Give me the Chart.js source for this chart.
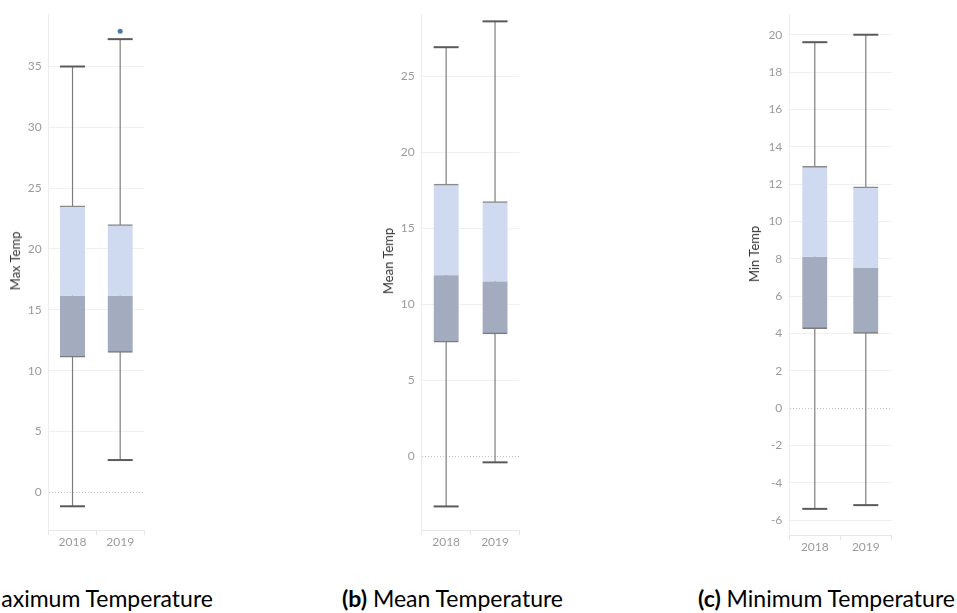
<!DOCTYPE html>
<html lang="en">
<head>
<meta charset="UTF-8">
<title>Max / Mean / Min Temperature 2018-2019</title>
<script src="https://cdn.jsdelivr.net/npm/chart.js"></script>
<style>
    body {
        margin: 0;
        width: 957px;
        height: 613px;
        overflow: hidden;
        background: #fff;
        position: relative;
        font-family: Lato, sans-serif;
    }
    .panel { position: absolute; top: 0; }
    .ytitle {
        position: absolute;
        font-size: 13px;
        color: #333;
        white-space: nowrap;
        transform: translate(-50%, -50%) rotate(-90deg);
    }
    .caption {
        position: absolute;
        top: 587px;
        font-size: 23px;
        line-height: 23px;
        color: #000;
        white-space: nowrap;
    }
</style>
</head>
<body>
    <div class="panel" style="left:0px"><canvas id="maxChart" width="150" height="560"></canvas></div>
    <div class="panel" style="left:372px"><canvas id="meanChart" width="150" height="560"></canvas></div>
    <div class="panel" style="left:740px"><canvas id="minChart" width="155" height="565"></canvas></div>

    <div class="ytitle" style="left:15px; top:261px">Max Temp</div>
    <div class="ytitle" style="left:388px; top:261px">Mean Temp</div>
    <div class="ytitle" style="left:754px; top:254px">Min Temp</div>

    <div class="caption" style="right:744px"><b>(a)</b> Maximum Temperature</div>
    <div class="caption" style="right:394px"><b>(b)</b> Mean Temperature</div>
    <div class="caption" style="right:2px"><b>(c)</b> Minimum Temperature</div>

<script>
// categories
const years = ['2018', '2019'];

// Max temperature box plot values
const maxTempLow = [-1.15, 2.65];
const maxTempQ1 = [11.1, 11.5];
const maxTempMedian = [16.15, 16.15];
const maxTempQ3 = [23.55, 22.0];
const maxTempHigh = [35.0, 37.25];
const maxTempOutliers = [null, 37.9];

// Mean temperature
const meanTempLow = [-3.3, -0.4];
const meanTempQ1 = [7.5, 8.05];
const meanTempMedian = [11.9, 11.5];
const meanTempQ3 = [17.9, 16.75];
const meanTempHigh = [26.9, 28.6];

// Min temperature
const minTempLow = [-5.4, -5.2];
const minTempQ1 = [4.25, 4.0];
const minTempMedian = [8.1, 7.5];
const minTempQ3 = [12.95, 11.85];
const minTempHigh = [19.6, 20.0];

// draws the whisker lines (behind the boxes) and the end caps (on top)
const whiskerPlugin = {
    id: 'whiskers',
    beforeDatasetsDraw(chart, args, opts) {
        const ctx = chart.ctx;
        const x = chart.scales.x, y = chart.scales.y;
        ctx.save();
        ctx.strokeStyle = '#7d7d7d';
        ctx.lineWidth = 1.2;
        opts.low.forEach(function(lo, i) {
            let px = x.getPixelForValue(i);
            ctx.beginPath();
            ctx.moveTo(px, y.getPixelForValue(lo));
            ctx.lineTo(px, y.getPixelForValue(opts.high[i]));
            ctx.stroke();
        });
        ctx.restore();
    },
    afterDatasetsDraw(chart, args, opts) {
        const ctx = chart.ctx;
        const x = chart.scales.x, y = chart.scales.y;
        const bars = chart.getDatasetMeta(0).data;
        ctx.save();
        ctx.strokeStyle = '#5a5a5a';
        ctx.lineWidth = 2;
        opts.low.forEach(function(lo, i) {
            let px = x.getPixelForValue(i);
            let half = bars[i].width / 2;
            [lo, opts.high[i]].forEach(function(v) {
                let py = y.getPixelForValue(v);
                ctx.beginPath();
                ctx.moveTo(px - half, py);
                ctx.lineTo(px + half, py);
                ctx.stroke();
            });
        });
        ctx.restore();
    }
};

function pairs(a, b) {
    return a.map((v, i) => [v, b[i]]);
}

function boxChart(id, o) {
    let datasets = [
        {
            label: 'lower',
            data: pairs(o.q1, o.median),
            backgroundColor: '#a3abbf',
            borderColor: '#7a7a7a',
            borderWidth: { bottom: 1.5 },
            borderSkipped: false,
            order: 2
        },
        {
            label: 'upper',
            data: pairs(o.median, o.q3),
            backgroundColor: '#cfdaf0',
            borderColor: '#8a8a8a',
            borderWidth: { top: 1.5 },
            borderSkipped: false,
            order: 2
        }
    ];
    if (o.outliers) {
        datasets.push({
            type: 'line',
            label: 'outlier',
            data: o.outliers,
            showLine: false,
            pointRadius: 2.5,
            pointBackgroundColor: '#4e79a7',
            pointBorderWidth: 0,
            order: 0
        });
    }

    return new Chart(document.getElementById(id), {
        type: 'bar',
        data: { labels: years, datasets: datasets },
        plugins: [whiskerPlugin],
        options: {
            responsive: false,
            animation: false,
            barThickness: 25,
            grouped: false,
            layout: { padding: { top: 10, right: o.padRight, left: 0, bottom: 0 } },
            plugins: {
                legend: { display: false },
                tooltip: { enabled: false },
                whiskers: { low: o.low, high: o.high }
            },
            scales: {
                x: {
                    afterFit: function(s) { s.height = 30; },
                    grid: {
                        drawOnChartArea: false,
                        drawTicks: true,
                        tickLength: 5,
                        tickColor: '#e4e4e4'
                    },
                    border: { color: '#e8e8e8' },
                    ticks: { padding: 0, color: '#9b9b9b', font: { family: 'Lato', size: 12 } }
                },
                y: {
                    min: o.min,
                    max: o.max,
                    afterFit: function(s) { s.width = o.axisWidth; },
                    grid: {
                        drawTicks: false,
                        color: ctx => ctx.tick && ctx.tick.value === 0 ? '#c4c4c4' : '#f0f0f0'
                    },
                    border: {
                        color: '#ededed',
                        dash: ctx => ctx.tick && ctx.tick.value === 0 ? [1, 2] : []
                    },
                    ticks: {
                        stepSize: o.step,
                        includeBounds: false,
                        padding: 7,
                        color: '#9b9b9b',
                        font: { family: 'Lato', size: 12 }
                    }
                }
            }
        }
    });
}

boxChart('maxChart', {
    low: maxTempLow, q1: maxTempQ1, median: maxTempMedian, q3: maxTempQ3, high: maxTempHigh,
    outliers: maxTempOutliers,
    min: -3.1, max: 39.3, step: 5, axisWidth: 48.7, padRight: 6
});

boxChart('meanChart', {
    low: meanTempLow, q1: meanTempQ1, median: meanTempMedian, q3: meanTempQ3, high: meanTempHigh,
    min: -4.85, max: 29.07, step: 5, axisWidth: 49.7, padRight: 2.5
});

boxChart('minChart', {
    low: minTempLow, q1: minTempQ1, median: minTempMedian, q3: minTempQ3, high: minTempHigh,
    min: -6.8, max: 21.1, step: 2, axisWidth: 49.3, padRight: 3.7
});
</script>
</body>
</html>
